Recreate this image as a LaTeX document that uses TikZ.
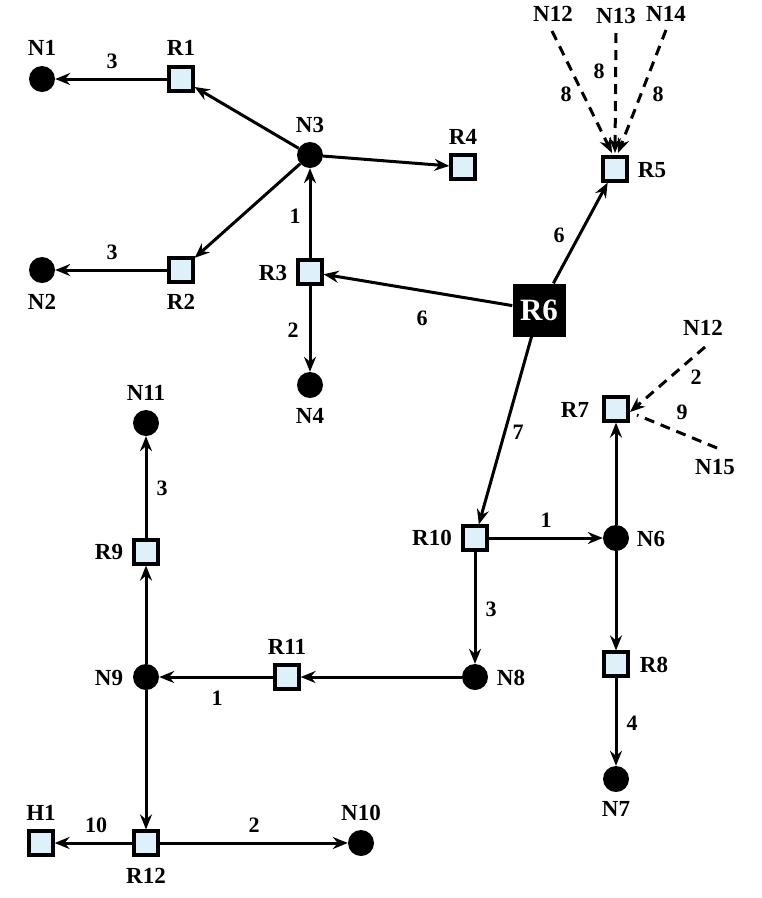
\documentclass[tikz,border=0pt]{standalone}
\usepackage{fontspec}
\setmainfont{Liberation Serif}
\usetikzlibrary{arrows.meta}
\definecolor{rfill}{RGB}{222,240,250}
\tikzset{
  rt/.style={draw=black,line width=3.2pt,fill=rfill,minimum size=24pt,inner sep=0pt},
  nd/.style={circle,fill=black,minimum size=26pt,inner sep=0pt},
  big/.style={fill=black,text=white,minimum size=53pt,inner sep=0pt,font=\fontsize{31}{31}\selectfont\bfseries},
  lb/.style={font=\fontsize{23}{23}\selectfont\bfseries,inner sep=0pt},
  num/.style={font=\fontsize{22}{22}\selectfont\bfseries,inner sep=0pt},
  ar/.style={line width=3pt,-{Stealth[length=15pt,width=12pt,inset=5pt]}},
  da/.style={line width=3pt,dash pattern=on 10pt off 7pt,-{Stealth[length=15pt,width=12pt,inset=5pt]}},
  dl/.style={line width=3pt,dash pattern=on 10pt off 7pt}
}
\begin{document}
\begin{tikzpicture}[x=1pt,y=-1pt]
\useasboundingbox (0,0) rectangle (762,898);
% nodes
\node[nd] (N1) at (42,79) {};
\node[rt] (R1) at (181,79) {};
\node[nd] (N3) at (310,155) {};
\node[rt] (R4) at (463,167) {};
\node[nd] (N2) at (42,270) {};
\node[rt] (R2) at (181,270) {};
\node[rt] (R3) at (310,272) {};
\node[nd] (N4) at (310,385) {};
\node[big] (R6) at (539,310) {R6};
\node[rt] (R5) at (615,169) {};
\node[rt] (R7) at (616,409) {};
\node[nd] (N6) at (616,538) {};
\node[rt] (R8) at (616,664) {};
\node[nd] (N7) at (616,779) {};
\node[rt] (R10) at (475,538) {};
\node[nd] (N8) at (475,677) {};
\node[rt] (R11) at (287,677) {};
\node[nd] (N9) at (146,677) {};
\node[rt] (R9) at (146,552) {};
\node[nd] (N11) at (146,423) {};
\node[rt] (R12) at (146,843) {};
\node[rt] (H1) at (41,843) {};
\node[nd] (N10) at (361,843) {};
% labels
\node[lb] (lN1) at (42,48) {N1};
\node[lb] (lR1) at (181,48) {R1};
\node[lb] (lN3) at (310,125) {N3};
\node[lb] (lR4) at (463,137) {R4};
\node[lb] (lR2) at (181,302) {R2};
\node[lb] (lN2) at (42,302) {N2};
\node[lb] (lR3) at (273,273) {R3};
\node[lb] (lN4) at (310,416) {N4};
\node[lb] (lR5) at (652,170) {R5};
\node[lb] (lN12a) at (553,14) {N12};
\node[lb] (lN13) at (616,16) {N13};
\node[lb] (lN14) at (666,14) {N14};
\node[lb] (lR7) at (575,410) {R7};
\node[lb] (lN12b) at (703,328) {N12};
\node[lb] (lN15) at (715,467) {N15};
\node[lb] (lN6) at (651,539) {N6};
\node[lb] (lR10) at (432,538) {R10};
\node[lb] (lN11) at (146,393) {N11};
\node[lb] (lR9) at (109,552) {R9};
\node[lb] (lR11) at (287,647) {R11};
\node[lb] (lN9) at (109,678) {N9};
\node[lb] (lN8) at (511,678) {N8};
\node[lb] (lR8) at (654,665) {R8};
\node[lb] (lN7) at (616,809) {N7};
\node[lb] (lH1) at (41,813) {H1};
\node[lb] (lR12) at (146,876) {R12};
\node[lb] (lN10) at (361,813) {N10};
% dashed sources
\coordinate (s12a) at (552,31);
\coordinate (s13) at (616,33);
\coordinate (s14) at (666,30);
\coordinate (s12b) at (705,347);
\coordinate (s15) at (717,448);
\coordinate (t12a) at (612,153);
\coordinate (t13) at (615,153);
\coordinate (t14) at (618,153);
\coordinate (t12b) at (630,412);
\coordinate (t15) at (637,415);
% edges
\draw[ar] (R1) -- (N1);
\draw[ar] (N3) -- (R1);
\draw[ar] (N3) -- (R2);
\draw[ar] (R2) -- (N2);
\draw[ar] (N3) -- (R4);
\draw[ar] (R3) -- (N3);
\draw[ar] (R3) -- (N4);
\draw[ar] (R6) -- (R3);
\draw[ar] (R6) -- (R5);
\draw[ar] (R6) -- (R10);
\draw[da] (s12a) -- (t12a);
\draw[da] (s13) -- (t13);
\draw[da] (s14) -- (t14);
\draw[da] (s12b) -- (t12b);
\draw[dl] (s15) -- (t15);
\draw[ar] (R10) -- (N6);
\draw[ar] (N6) -- (R7);
\draw[ar] (N6) -- (R8);
\draw[ar] (R8) -- (N7);
\draw[ar] (R10) -- (N8);
\draw[ar] (N8) -- (R11);
\draw[ar] (R11) -- (N9);
\draw[ar] (N9) -- (R9);
\draw[ar] (R9) -- (N11);
\draw[ar] (N9) -- (R12);
\draw[ar] (R12) -- (H1);
\draw[ar] (R12) -- (N10);
% weights
\node[num] (w1) at (112,61) {3};
\node[num] (w2) at (112,252) {3};
\node[num] (w3) at (295,216) {1};
\node[num] (w4) at (293,330) {2};
\node[num] (w5) at (422,318) {6};
\node[num] (w6) at (559,235) {6};
\node[num] (w7) at (518,432) {7};
\node[num] (w8) at (566,94) {8};
\node[num] (w9) at (599,71) {8};
\node[num] (w10) at (658,94) {8};
\node[num] (w11) at (696,377) {2};
\node[num] (w12) at (682,412) {9};
\node[num] (w13) at (546,520) {1};
\node[num] (w14) at (632,723) {4};
\node[num] (w15) at (491,609) {3};
\node[num] (w16) at (217,698) {1};
\node[num] (w17) at (162,488) {3};
\node[num] (w18) at (96,825) {10};
\node[num] (w19) at (254,825) {2};
\end{tikzpicture}
\end{document}
